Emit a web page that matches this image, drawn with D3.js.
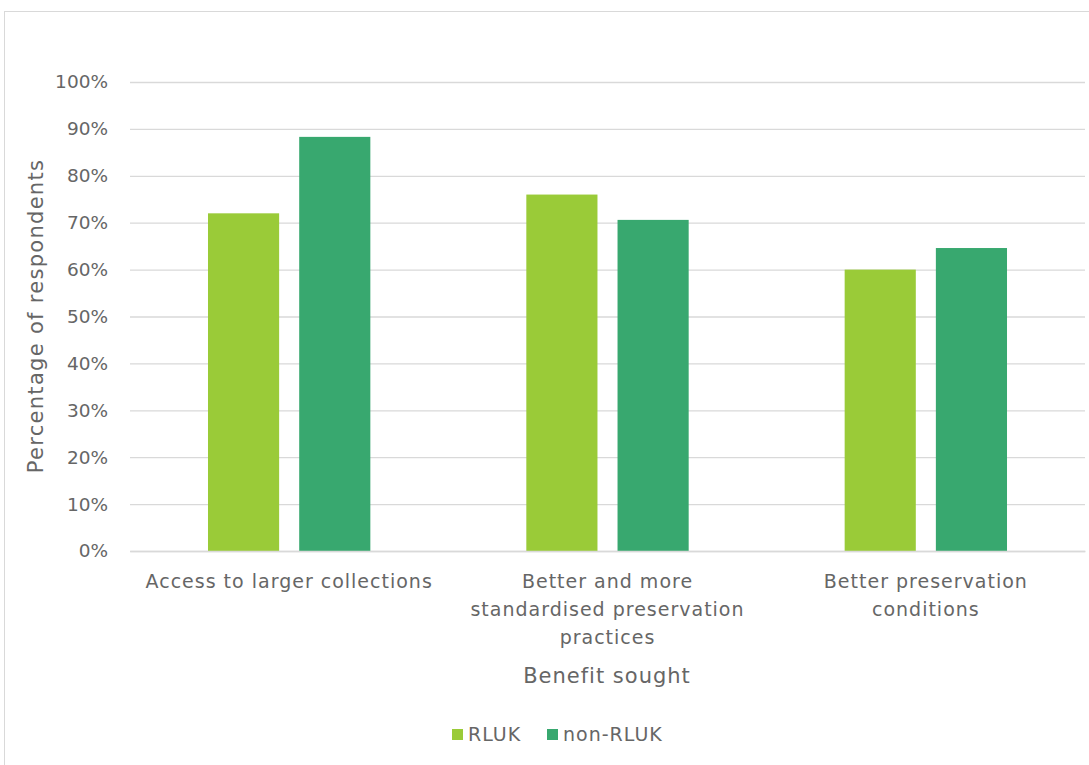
<!DOCTYPE html>
<html><head><meta charset="utf-8">
<script src="https://cdn.jsdelivr.net/npm/d3@7"></script>
<style>body{margin:0;background:#fff}svg{display:block}text{font-family:"DejaVu Sans",sans-serif;fill:#666}</style>
</head><body><svg id="c" width="1089" height="765"></svg>
<script>
const categories = [["Access to larger collections"], ["Better and more", "standardised preservation", "practices"], ["Better preservation", "conditions"]];
const categoryKeys = ["Access", "Standardised", "Conditions"];
const seriesNames = ["RLUK", "non-RLUK"];
const rlukValues = [72, 76, 60];
const nonRlukValues = [88.3, 70.6, 64.6];
const yTicks = [0, 10, 20, 30, 40, 50, 60, 70, 80, 90, 100];
const colors = ["#9acb38", "#38a86f"];

const svg = d3.select("#c");
svg.append("rect").attr("x", 4.5).attr("y", 11.5).attr("width", 1100).attr("height", 800)
  .attr("fill", "none").attr("stroke", "#d9d9d9");

const m = {l: 130, r: 1085, t: 82, b: 551};
const y = d3.scaleLinear().domain([0, 100]).range([m.b, m.t]);
const x0 = d3.scaleBand().domain(categoryKeys).range([m.l, m.r]).paddingInner(0.49).paddingOuter(0.245);
const x1 = d3.scaleBand().domain(seriesNames).range([0, x0.bandwidth()]).paddingInner(0.22);

const yAxis = d3.axisLeft(y).tickValues(yTicks).tickSize(-(m.r - m.l)).tickFormat(d => d + "%");
const gy = svg.append("g").attr("transform", `translate(${m.l},0)`).call(yAxis);
gy.select(".domain").remove();
gy.selectAll("line").attr("stroke", "#d9d9d9").attr("stroke-width", 1.3);
gy.selectAll("text").attr("x", -22).attr("font-size", 18.5).style("fill", "#666")
  .style("font-family", '"DejaVu Sans", sans-serif');

const data = categoryKeys.map((k, i) => ({k, v: [rlukValues[i], nonRlukValues[i]]}));
svg.append("g").selectAll("g").data(data).join("g")
  .attr("transform", d => `translate(${x0(d.k)},0)`)
  .selectAll("rect").data(d => d.v.map((v, j) => ({s: seriesNames[j], v, j})))
  .join("rect")
  .attr("x", d => x1(d.s)).attr("width", x1.bandwidth())
  .attr("y", d => y(d.v)).attr("height", d => y(0) - y(d.v))
  .attr("fill", d => colors[d.j]);

const xAxis = d3.axisBottom(x0).tickSize(0).tickFormat(() => "");
const gx = svg.append("g").attr("transform", `translate(0,${m.b})`).call(xAxis);
gx.select(".domain").attr("stroke", "#d9d9d9").attr("stroke-width", 1.3);
gx.selectAll(".tick").each(function(d, i) {
  const t = d3.select(this).append("text").attr("text-anchor", "middle").attr("font-size", 19)
    .style("fill", "#666").style("font-family", '"DejaVu Sans", sans-serif').style("letter-spacing", "1px");
  categories[i].forEach((line, li) => t.append("tspan").attr("x", 0).attr("y", 37 + li * 28).text(line));
});

svg.append("text").attr("x", (m.l + m.r) / 2 - 0.5).attr("y", 683).attr("text-anchor", "middle")
  .attr("font-size", 21).style("letter-spacing", "1px").text("Benefit sought");
svg.append("text").attr("transform", `translate(43,316) rotate(-90)`).attr("text-anchor", "middle")
  .attr("font-size", 21).style("letter-spacing", "1.3px").text("Percentage of respondents");

const lg = svg.append("g");
const lx = [452, 547];
seriesNames.forEach((s, i) => {
  lg.append("rect").attr("x", lx[i]).attr("y", 729).attr("width", 11).attr("height", 11).attr("fill", colors[i]);
  lg.append("text").attr("x", lx[i] + 16).attr("y", 741).attr("font-size", 19).style("letter-spacing", "1px").text(s);
});
</script></body></html>
